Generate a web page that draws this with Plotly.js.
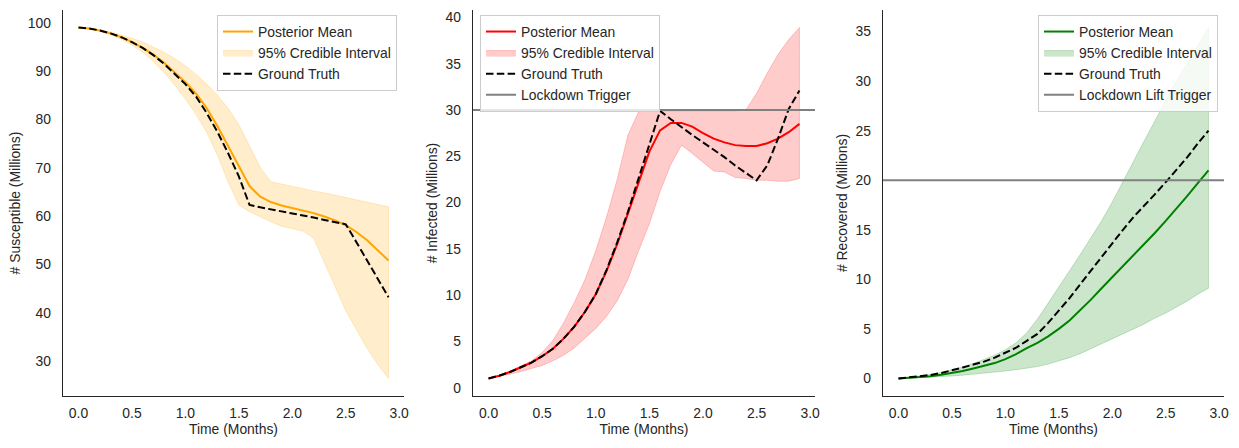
<!DOCTYPE html>
<html>
<head>
<meta charset="utf-8">
<script src="https://cdn.plot.ly/plotly-3.0.1.min.js"></script>
<style>html,body{margin:0;padding:0;background:#fff;}#chart{width:1239px;height:448px;}</style>
</head>
<body>
<div id="chart"></div>
<script>
// ---- data ----
const t = [0.0,0.1,0.2,0.3,0.4,0.5,0.6,0.7,0.8,0.9,1.0,1.1,1.2,1.3,1.4,1.5,1.6,1.7,1.8,1.9,2.0,2.1,2.2,2.3,2.4,2.5,2.6,2.7,2.8,2.9];

const S_mean  = [99.0,98.8,98.4,97.8,97.0,96.0,94.8,93.4,91.7,89.8,87.7,85.3,82.3,78.6,74.5,70.1,66.2,64.0,62.9,62.2,61.7,61.2,60.6,59.9,59.1,58.1,56.7,55.0,53.0,50.8];
const S_upper = [99.0,98.8,98.5,98.1,97.5,96.8,96.0,95.0,93.9,92.6,91.1,89.3,87.3,85.0,82.3,78.9,74.6,70.1,67.1,66.6,66.2,65.7,65.2,64.8,64.3,63.8,63.3,62.8,62.4,61.9];
const S_lower = [99.0,98.7,98.2,97.5,96.6,95.4,93.9,92.0,89.7,87.1,84.2,81.0,77.3,72.6,67.0,62.3,60.9,59.9,58.8,57.9,57.4,56.9,55.4,50.5,45.4,40.4,36.4,32.6,29.3,26.4];
const S_truth = [99.0,98.8,98.4,97.8,97.0,96.0,94.8,93.3,91.5,89.5,87.3,84.7,81.3,77.4,73.0,68.2,62.3,61.8,61.4,61.0,60.6,60.2,59.7,59.2,58.8,58.3,54.6,50.8,47.0,43.2];

const I_mean  = [1.0,1.3,1.7,2.2,2.7,3.4,4.2,5.3,6.6,8.2,10.1,12.6,15.5,18.8,22.2,25.5,27.8,28.6,28.6,28.2,27.5,26.9,26.5,26.2,26.1,26.1,26.4,26.9,27.6,28.5];
const I_upper = [1.0,1.35,1.8,2.35,2.9,3.8,5.1,7.0,9.2,11.7,14.8,18.4,22.5,27.3,29.8,29.9,29.9,29.9,29.9,29.9,29.9,29.9,29.9,29.9,30.0,31.8,34.0,36.0,37.6,38.9];
const I_lower = [1.0,1.2,1.45,1.75,2.05,2.4,2.9,3.5,4.3,5.3,6.4,7.7,9.4,11.7,14.8,17.7,21.2,24.1,26.2,25.3,24.4,23.4,23.3,22.7,22.6,22.4,22.4,22.3,22.3,22.6];
const I_truth = [1.0,1.3,1.7,2.2,2.7,3.4,4.2,5.3,6.6,8.2,10.1,12.7,15.7,19.0,22.6,26.4,29.9,29.0,28.1,27.3,26.5,25.7,24.9,24.0,23.2,22.4,24.0,26.9,30.1,32.1];

const R_mean  = [0.0,0.05,0.12,0.22,0.38,0.55,0.75,1.0,1.25,1.55,1.95,2.45,3.05,3.6,4.25,5.0,5.85,6.85,7.95,9.1,10.2,11.3,12.5,13.6,14.7,15.9,17.1,18.4,19.7,21.0];
const R_upper = [0.0,0.12,0.25,0.4,0.6,0.85,1.15,1.5,1.9,2.35,2.9,3.6,4.6,6.0,7.6,9.2,10.8,12.5,14.2,15.9,17.8,19.9,22.0,24.0,26.0,28.1,30.0,31.8,33.6,35.4];
const R_lower = [0.0,0.03,0.07,0.12,0.18,0.25,0.33,0.42,0.52,0.63,0.75,0.88,1.02,1.2,1.45,1.75,2.1,2.5,3.0,3.5,4.0,4.5,5.0,5.5,6.1,6.6,7.2,7.8,8.5,9.1];
const R_truth = [0.0,0.1,0.2,0.35,0.55,0.8,1.1,1.4,1.7,2.1,2.6,3.1,3.8,4.5,5.6,6.8,8.1,9.5,10.9,12.3,13.7,15.0,16.3,17.4,18.6,19.8,21.0,22.3,23.7,25.0];

const lockdownTrigger = 30;
const liftTrigger = 20;

const seriesNames = ["Posterior Mean","95% Credible Interval","Ground Truth"];
const yTitles = ["# Susceptible (Millions)","# Infected (Millions)","# Recovered (Millions)"];
const xTitle = "Time (Months)";

// ---- helpers ----
function padRange(arrs){
  let mn=Infinity,mx=-Infinity;
  arrs.forEach(a=>a.forEach(v=>{if(v<mn)mn=v;if(v>mx)mx=v;}));
  const s=mx-mn; return [mn-0.05*s, mx+0.05*s];
}
const xRange = padRange([t]);
const txt = '#262626';
const FONT = 'Liberation Sans, Arial, sans-serif';
const FS = 13.9;

function band(lower, upper, rgb, ax, leg){
  return {x: t.concat(t.slice().reverse()), y: upper.concat(lower.slice().reverse()),
    type:'scatter', mode:'lines', fill:'toself', fillcolor:`rgba(${rgb},0.2)`,
    line:{color:`rgba(${rgb},0.2)`, width:1}, name:seriesNames[1],
    xaxis:'x'+ax, yaxis:'y'+ax, legend:leg, hoverinfo:'skip'};
}
function meanLine(y, color, ax, leg){
  return {x:t, y:y, type:'scatter', mode:'lines', line:{color:color, width:2}, name:seriesNames[0], xaxis:'x'+ax, yaxis:'y'+ax, legend:leg};
}
function truthLine(y, ax, leg){
  return {x:t, y:y, type:'scatter', mode:'lines', line:{color:'#000000', width:2, dash:'7.5px,3.3px'}, name:seriesNames[2], xaxis:'x'+ax, yaxis:'y'+ax, legend:leg};
}
function hline(v, name, ax, leg){
  return {x:xRange, y:[v,v], type:'scatter', mode:'lines', line:{color:'#808080', width:2}, name:name, xaxis:'x'+ax, yaxis:'y'+ax, legend:leg};
}

const traces = [
  meanLine(S_mean,'#FFA500','', 'legend'),
  band(S_lower,S_upper,'255,165,0','', 'legend'),
  truthLine(S_truth,'', 'legend'),

  meanLine(I_mean,'#FF0000','2','legend2'),
  band(I_lower,I_upper,'255,0,0','2','legend2'),
  truthLine(I_truth,'2','legend2'),
  hline(lockdownTrigger,'Lockdown Trigger','2','legend2'),

  meanLine(R_mean,'#008000','3','legend3'),
  band(R_lower,R_upper,'0,128,0','3','legend3'),
  truthLine(R_truth,'3','legend3'),
  hline(liftTrigger,'Lockdown Lift Trigger','3','legend3')
];

const W=1239,H=448, mL=63, mR=15, mT=10, mB=52;
const PW=W-mL-mR;
function dom(a,b){return [(a-mL)/PW,(b-mL)/PW];}

function xa(d, anchor){
  return {domain:d, anchor:anchor, range:xRange, tick0:0, dtick:0.5, tickformat:'.1f',
    showgrid:false, zeroline:false, showline:true, linecolor:txt, linewidth:1.25, ticks:'',
    ticklabelstandoff:4,
    tickfont:{family:FONT,size:FS,color:txt},
    title:{text:xTitle, font:{family:FONT,size:FS,color:txt}, standoff:4}};
}
function ya(range, dt, title, anchor){
  return {domain:[0,1], anchor:anchor, range:range, dtick:dt, tick0:0,
    showgrid:false, zeroline:false, showline:true, linecolor:txt, linewidth:1.25, ticks:'',
    ticklabelstandoff:8,
    tickfont:{family:FONT,size:FS,color:txt},
    title:{text:title, font:{family:FONT,size:FS,color:txt}, standoff:4}};
}
function legend(x, xanchor){
  return {x:x, y:(H-mB-15)/(H-mT-mB), xanchor:xanchor, yanchor:'top',
    bgcolor:'rgba(255,255,255,0.8)', bordercolor:'#cccccc', borderwidth:1,
    font:{family:FONT,size:FS,color:txt}, itemwidth:30, tracegroupgap:0};
}

const layout = {
  width:W, height:H, margin:{l:mL,r:mR,t:mT,b:mB},
  paper_bgcolor:'#ffffff', plot_bgcolor:'#ffffff',
  font:{family:FONT,size:FS,color:txt},
  showlegend:true,
  xaxis: xa(dom(63,404),'y'),
  yaxis: ya(padRange([S_mean,S_upper,S_lower,S_truth]),10,yTitles[0],'x'),
  xaxis2: xa(dom(473,815),'y2'),
  yaxis2: ya(padRange([I_mean,I_upper,I_lower,I_truth]),5,yTitles[1],'x2'),
  xaxis3: xa(dom(883,1224),'y3'),
  yaxis3: ya(padRange([R_mean,R_upper,R_lower,R_truth]),5,yTitles[2],'x3'),
  legend: legend((397-mL)/PW,'right'),
  legend2: legend((480-mL)/PW,'left'),
  legend3: legend((1218-mL)/PW,'right')
};

Plotly.newPlot('chart', traces, layout, {staticPlot:true, displayModeBar:false});
</script>
</body>
</html>
